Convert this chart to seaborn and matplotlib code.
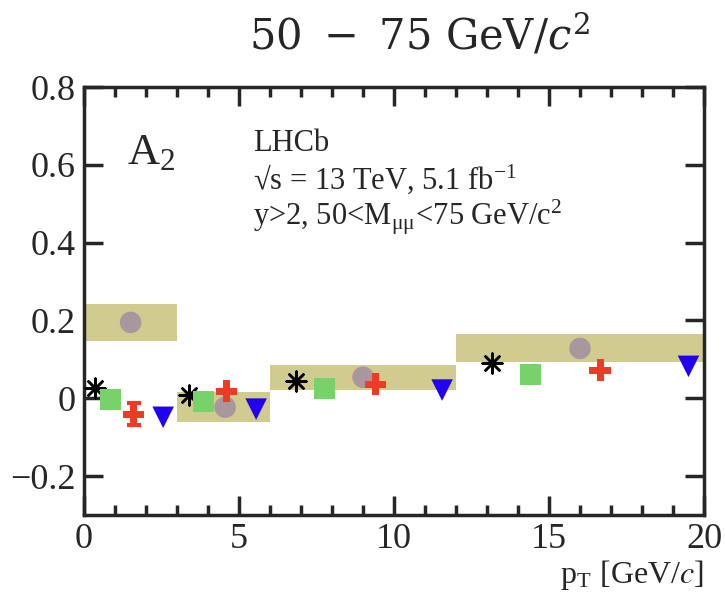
import numpy as np
import pandas as pd
import seaborn as sns
import matplotlib
matplotlib.use("Agg")
import matplotlib.pyplot as plt
from matplotlib.ticker import MultipleLocator

# ---- data ----
bin_lo = [0, 3, 6, 12]
bin_hi = [3, 6, 12, 20]
data_pt = [1.5, 4.55, 9.0, 16.0]
data_a2 = [0.195, -0.023, 0.054, 0.128]
sys_err = [0.047, 0.038, 0.032, 0.036]

star_pt = [0.35, 3.4, 6.85, 13.15]
star_a2 = [0.026, 0.008, 0.044, 0.090]
sq_pt = [0.85, 3.85, 7.75, 14.4]
sq_a2 = [-0.003, -0.008, 0.026, 0.062]
cross_pt = [1.6, 4.6, 9.4, 16.65]
cross_a2 = [-0.041, 0.018, 0.036, 0.072]
cross_err = [0.028, 0.0, 0.0, 0.0]
tri_pt = [2.55, 5.55, 11.55, 19.5]
tri_a2 = [-0.049, -0.028, 0.021, 0.082]

x_ticks = [0, 5, 10, 15, 20]
y_ticks = [-0.2, 0, 0.2, 0.4, 0.6, 0.8]
y_tick_labels = ["\u22120.2", "0", "0.2", "0.4", "0.6", "0.8"]

sns.set_style("ticks")
plt.rcParams["font.family"] = ["Liberation Serif", "DejaVu Serif"]
plt.rcParams["mathtext.fontset"] = "stix"

fig = plt.figure(figsize=(7.25, 5.96), dpi=100)
ax = fig.add_axes([0.116, 0.136, 0.855, 0.718])

band_col = "#D0CC90"
centers = [(a + b) / 2 for a, b in zip(bin_lo, bin_hi)]
widths = [b - a for a, b in zip(bin_lo, bin_hi)]
lows = [v - e for v, e in zip(data_a2, sys_err)]
ax.bar(centers, [2 * e for e in sys_err], width=widths, bottom=lows,
       color=band_col, edgecolor="none", zorder=1)

sns.scatterplot(x=star_pt, y=star_a2, marker=(8, 2, 0), s=200, color="black",
                linewidth=1.8, ax=ax, zorder=3)
sns.scatterplot(x=sq_pt, y=sq_a2, marker="s", s=230, color="#78D26A",
                edgecolor="none", ax=ax, zorder=3)
ax.errorbar(cross_pt, cross_a2, yerr=cross_err, fmt="none", ecolor="#EF3B26",
            elinewidth=3, capsize=5, capthick=3, zorder=3)
sns.scatterplot(x=cross_pt, y=cross_a2, marker="P", s=240, color="#EF3B26",
                edgecolor="none", ax=ax, zorder=4)
sns.scatterplot(x=tri_pt, y=tri_a2, marker="v", s=240, color="#2200F2",
                edgecolor="none", ax=ax, zorder=3)
sns.scatterplot(x=data_pt, y=data_a2, marker="o", s=240, color="#A8979C",
                edgecolor="none", ax=ax, zorder=3)

ax.set_xlim(0, 20)
ax.set_ylim(-0.3, 0.8)
ax.set_xticks(x_ticks)
ax.xaxis.set_minor_locator(MultipleLocator(1))
ax.set_yticks(y_ticks)
ax.set_yticklabels(y_tick_labels)
ax.tick_params(which="both", direction="in", top=True, right=True,
               labelsize=26, width=2.5, pad=6)
ax.tick_params(which="major", length=14)
ax.tick_params(which="minor", length=7)
for sp in ax.spines.values():
    sp.set_linewidth(2.5)

ax.text(1.0, -0.14, r"p$_{\mathregular{T}}$ [GeV/$c$]", transform=ax.transAxes,
        ha="right", va="center", fontsize=23)

ax.text(0.07, 0.845, r"A$_{\mathregular{2}}$", transform=ax.transAxes, fontsize=32,
        ha="left", va="center")
ax.text(0.272, 0.868, "LHCb", transform=ax.transAxes, fontsize=22,
        ha="left", va="center")
ax.text(0.272, 0.783, "\u221as = 13 TeV, 5.1 fb$^{\\mathregular{-1}}$",
        transform=ax.transAxes, fontsize=22, ha="left", va="center")
ax.text(0.272, 0.695, "y>2, 50<M$_{\\mathregular{\u03bc\u03bc}}$<75 GeV/c$^{\\mathregular{2}}$",
        transform=ax.transAxes, fontsize=22, ha="left", va="center")

fig.text(0.578, 0.94, r"$50\ -\ 75\ \mathrm{GeV}/c^2$", fontsize=30,
         ha="center", va="center", math_fontfamily="dejavuserif")

fig.savefig("out.png", dpi=100)
